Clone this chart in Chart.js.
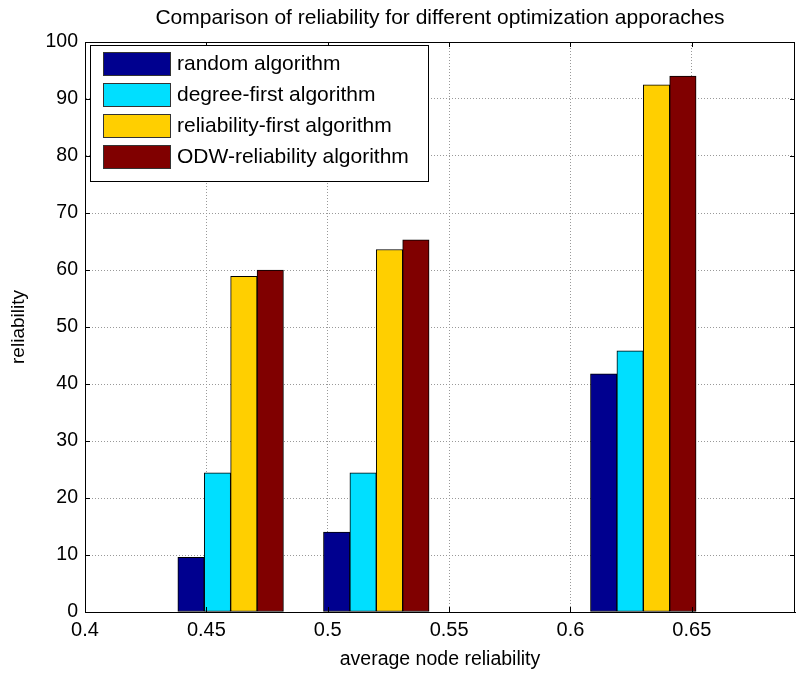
<!DOCTYPE html>
<html>
<head>
<meta charset="utf-8">
<script src="https://cdn.jsdelivr.net/npm/chart.js@4.4.1/dist/chart.umd.min.js"></script>
<style>
  html, body { margin: 0; padding: 0; background: #fff; }
  #wrap { width: 806px; height: 674px; }
</style>
</head>
<body>
<div id="wrap"><canvas id="chart"></canvas></div>
<script>
// ======================
// DATA
// ======================
const nodeReliability = [0.46, 0.52, 0.63];

const randomAlg = [9.6, 14.0, 41.8];
const degreeFirst = [24.4, 24.4, 45.8];
const reliabilityFirst = [58.9, 63.6, 92.5];
const odwReliability = [60.0, 65.3, 94.0];

const seriesNames = [
  "random algorithm",
  "degree-first algorithm",
  "reliability-first algorithm",
  "ODW-reliability algorithm"
];
const seriesColors = ["#00008F", "#00DFFF", "#FFCF00", "#800000"];

const xMin = 0.4, xMax = 0.6925, xStep = 0.05;
const yMin = 0, yMax = 100, yStep = 10;

const FONT = "'Liberation Sans', Arial, Helvetica, sans-serif";

function toPoints(values) {
  return values.map((v, i) => ({ x: nodeReliability[i], y: v }));
}

const allSeries = [randomAlg, degreeFirst, reliabilityFirst, odwReliability];

// ======================
// PLUGINS
// ======================
// box round the plot + inward tick marks (matlab style)
const boxPlugin = {
  id: "boxPlugin",
  afterDatasetsDraw(chart) {
    const { ctx, chartArea: a, scales } = chart;
    ctx.save();
    ctx.strokeStyle = "#000";
    ctx.lineWidth = 1;
    ctx.beginPath();
    ctx.rect(Math.round(a.left) + 0.5, Math.round(a.top) + 0.5,
      Math.round(a.right - a.left) - 1, Math.round(a.bottom - a.top));
    ctx.stroke();

    const len = 5;
    ctx.beginPath();
    scales.x.ticks.forEach(t => {
      const px = Math.round(scales.x.getPixelForValue(t.value)) + 0.5;
      ctx.moveTo(px, a.bottom); ctx.lineTo(px, a.bottom - len);
      ctx.moveTo(px, a.top); ctx.lineTo(px, a.top + len);
    });
    scales.y.ticks.forEach(t => {
      const py = Math.round(scales.y.getPixelForValue(t.value)) + 0.5;
      ctx.moveTo(a.left, py); ctx.lineTo(a.left + len, py);
      ctx.moveTo(a.right, py); ctx.lineTo(a.right - len, py);
    });
    ctx.stroke();
    ctx.restore();
  }
};

// legend box inside the plot, top left
const legendBoxPlugin = {
  id: "legendBox",
  afterDraw(chart) {
    const { ctx, chartArea: a } = chart;
    const left = a.left + 5, top = a.top + 3;
    const w = 338, rowH = 31;
    const h = 12 + rowH * chart.data.datasets.length;

    ctx.save();
    ctx.fillStyle = "#fff";
    ctx.fillRect(left, top, w, h);
    ctx.strokeStyle = "#000";
    ctx.lineWidth = 1;
    ctx.strokeRect(left + 0.5, top + 0.5, w, h);

    ctx.font = "21px " + FONT;
    ctx.textBaseline = "middle";
    chart.data.datasets.forEach((ds, i) => {
      const y = top + 7 + i * rowH;
      ctx.fillStyle = ds.backgroundColor;
      ctx.fillRect(left + 13, y, 67, 23);
      ctx.strokeStyle = "#333";
      ctx.strokeRect(left + 13.5, y + 0.5, 67, 23);
      ctx.fillStyle = "#000";
      ctx.fillText(ds.label, left + 87, y + 12);
    });
    ctx.restore();
  }
};

// ======================
// CHART
// ======================
new Chart(document.getElementById("chart"), {
  type: "bar",
  data: {
    datasets: allSeries.map((vals, i) => ({
      label: seriesNames[i],
      data: toPoints(vals),
      backgroundColor: seriesColors[i],
      borderColor: "#000",
      borderWidth: 1,
      borderSkipped: false,
      barThickness: 26.4
    }))
  },
  options: {
    responsive: true,
    maintainAspectRatio: false,
    animation: false,
    layout: { padding: { left: 0, right: 11, top: 0, bottom: 0 } },
    plugins: {
      legend: { display: false },
      tooltip: { enabled: false },
      title: {
        display: true,
        fullSize: false,
        text: "Comparison of reliability for different optimization apporaches",
        color: "#000",
        font: { family: FONT, size: 21, weight: "normal", lineHeight: 1.2 },
        padding: { top: 6, bottom: 10.8 }
      }
    },
    scales: {
      x: {
        type: "linear",
        min: xMin,
        max: xMax,
        offset: false,
        grid: {
          offset: false,
          color: "#999",
          drawTicks: false
        },
        border: { display: true, color: "#000", width: 1, dash: [1, 2] },
        ticks: {
          stepSize: xStep,
          includeBounds: false,
          color: "#000",
          padding: 6,
          maxRotation: 0,
          font: { family: FONT, size: 20 },
          callback: v => String(Number(v.toFixed(2)))
        },
        title: {
          display: true,
          text: "average node reliability",
          color: "#000",
          font: { family: FONT, size: 19.5 },
          padding: { top: 0, bottom: 3 }
        },
        afterFit: scale => { scale.height = 62; }
      },
      y: {
        min: yMin,
        max: yMax,
        grid: {
          color: "#999",
          drawTicks: false
        },
        border: { display: true, color: "#000", width: 1, dash: [1, 2] },
        ticks: {
          stepSize: yStep,
          color: "#000",
          padding: 7,
          font: { family: FONT, size: 19.5 }
        },
        title: {
          display: true,
          text: "reliability",
          color: "#000",
          font: { family: FONT, size: 19 },
          padding: { top: 7, bottom: 0 }
        },
        afterFit: scale => { scale.width = 85; }
      }
    }
  },
  plugins: [boxPlugin, legendBoxPlugin]
});
</script>
</body>
</html>
